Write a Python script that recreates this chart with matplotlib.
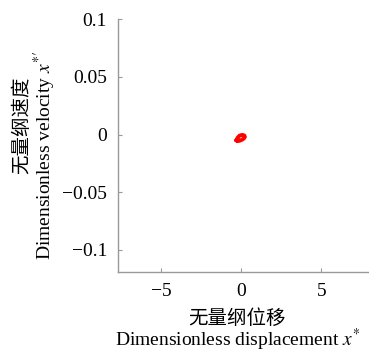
import matplotlib
matplotlib.use("Agg")
import matplotlib.pyplot as plt

# phase trajectory (small limit cycle near origin)
disp = [-0.30, -0.25, -0.12, 0.05, 0.18, 0.22, 0.15, 0.00, -0.15, -0.27, -0.30]
vel = [-0.0050, -0.0030, -0.0010, -0.0003, -0.0008, -0.0020, -0.0035, -0.0048, -0.0055, -0.0056, -0.0050]

xticks = [-5, 0, 5]
yticks = [-0.1, -0.05, 0, 0.05, 0.1]
ytick_labels = ["\u22120.1", "\u22120.05", "0", "0.05", "0.1"]
xtick_labels = ["\u22125", "0", "5"]

plt.rcParams['font.family'] = ['Liberation Serif', 'Noto Sans CJK SC']
plt.rcParams['mathtext.fontset'] = 'stix'

fig = plt.figure(figsize=(3.69, 3.54), dpi=100)
ax = fig.add_axes([0.320, 0.232, 0.677, 0.714])

ax.plot(disp, vel, color="red", lw=2.8)

ax.set_xlim(-7.7, 7.9)
ax.set_ylim(-0.119, 0.1)
ax.set_xticks(xticks)
ax.set_xticklabels(xtick_labels)
ax.set_yticks(yticks)
ax.set_yticklabels(ytick_labels)

for s in ["top", "right"]:
    ax.spines[s].set_visible(False)
for s in ["left", "bottom"]:
    ax.spines[s].set_color("#999999")
    ax.spines[s].set_linewidth(1.0)
ax.tick_params(direction="in", length=3, color="#999999", labelsize=14, pad=8)

# axis titles: Chinese line + English line
fig.text(0.643, 0.100, "无量纲位移", fontsize=14, ha="center", va="center")
fig.text(0.643, 0.040, "Dimensionless displacement $x^{*}$", fontsize=14, ha="center", va="center")
fig.text(0.060, 0.647, "无量纲速度", fontsize=14, ha="center", va="center", rotation=90)
fig.text(0.122, 0.562, "Dimensionless velocity $x^{*\\prime}$", fontsize=14, ha="center", va="center", rotation=90)

fig.savefig("out.png", dpi=100)
